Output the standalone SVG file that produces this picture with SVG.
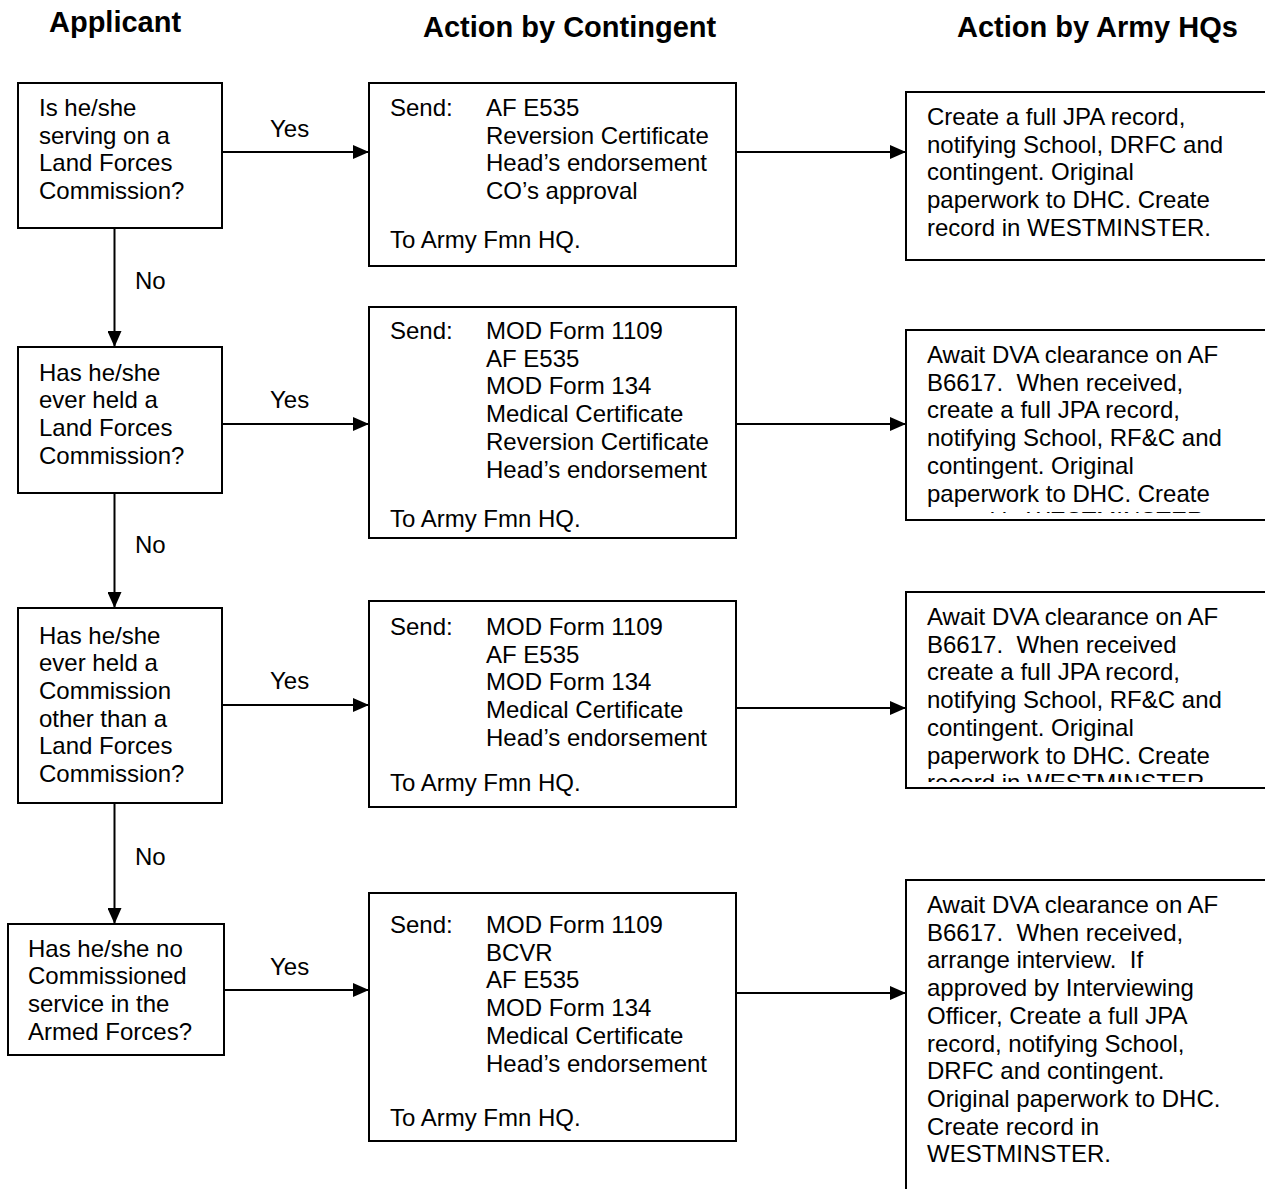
<svg xmlns="http://www.w3.org/2000/svg" width="1265" height="1189" viewBox="0 0 1265 1189">
<style>
  text { font-family: "Liberation Sans", Arial, sans-serif; font-size: 24px; fill: #000; }
  .hdr { font-weight: bold; font-size: 29px; }
  .box { fill: #fff; stroke: #000; stroke-width: 2; }
  .conn line { stroke: #000; stroke-width: 2; fill: none; marker-end: url(#arrow); }
</style>
<defs>
  <marker id="arrow" markerUnits="userSpaceOnUse" markerWidth="16" markerHeight="14" refX="16" refY="7" orient="auto">
    <path d="M0,0 L16,7 L0,14 z" fill="#000"/>
  </marker>
  <clipPath id="clip-h2"><rect x="906" y="330" width="360" height="183"/></clipPath>
  <clipPath id="clip-h3"><rect x="906" y="592" width="360" height="190"/></clipPath>
</defs>
<rect width="1265" height="1189" fill="#fff"/>

<!-- column headings -->
<g id="headers">
  <text class="hdr" x="49" y="32">Applicant</text>
  <text class="hdr" x="423" y="37">Action by Contingent</text>
  <text class="hdr" x="957" y="37">Action by Army HQs</text>
</g>

<!-- connectors -->
<g id="connectors" class="conn">
  <line x1="114.5" y1="228" x2="114.5" y2="347"/>
  <line x1="114.5" y1="493" x2="114.5" y2="608"/>
  <line x1="114.5" y1="803" x2="114.5" y2="924"/>
  <line x1="222" y1="152" x2="369" y2="152"/>
  <line x1="222" y1="424" x2="369" y2="424"/>
  <line x1="222" y1="705" x2="369" y2="705"/>
  <line x1="224" y1="990" x2="369" y2="990"/>
  <line x1="736" y1="152" x2="906" y2="152"/>
  <line x1="736" y1="424" x2="906" y2="424"/>
  <line x1="736" y1="708" x2="906" y2="708"/>
  <line x1="736" y1="993" x2="906" y2="993"/>
</g>
<g id="connector-labels">
  <text x="135" y="288.5">No</text>
  <text x="135" y="552.5">No</text>
  <text x="135" y="865">No</text>
  <text x="270" y="137">Yes</text>
  <text x="270" y="408">Yes</text>
  <text x="270" y="689">Yes</text>
  <text x="270" y="975">Yes</text>
</g>

<!-- applicant questions -->
<g id="q1">
  <rect class="box" x="18" y="83" width="204" height="145"/>
  <text x="39" y="116">Is he/she<tspan x="39" dy="27.7">serving on a</tspan><tspan x="39" dy="27.7">Land Forces</tspan><tspan x="39" dy="27.7">Commission?</tspan></text>
</g>
<g id="q2">
  <rect class="box" x="18" y="347" width="204" height="146"/>
  <text x="39" y="380.5">Has he/she<tspan x="39" dy="27.7">ever held a</tspan><tspan x="39" dy="27.7">Land Forces</tspan><tspan x="39" dy="27.7">Commission?</tspan></text>
</g>
<g id="q3">
  <rect class="box" x="18" y="608" width="204" height="195"/>
  <text x="39" y="643.5">Has he/she<tspan x="39" dy="27.7">ever held a</tspan><tspan x="39" dy="27.7">Commission</tspan><tspan x="39" dy="27.7">other than a</tspan><tspan x="39" dy="27.7">Land Forces</tspan><tspan x="39" dy="27.7">Commission?</tspan></text>
</g>
<g id="q4">
  <rect class="box" x="8" y="924" width="216" height="131"/>
  <text x="28" y="956.7">Has he/she no<tspan x="28" dy="27.7">Commissioned</tspan><tspan x="28" dy="27.7">service in the</tspan><tspan x="28" dy="27.7">Armed Forces?</tspan></text>
</g>

<!-- contingent actions -->
<g id="c1">
  <rect class="box" x="369" y="83" width="367" height="183"/>
  <text x="390" y="116">Send:</text>
  <text x="486" y="116">AF E535<tspan x="486" dy="27.7">Reversion Certificate</tspan><tspan x="486" dy="27.7">Head’s endorsement</tspan><tspan x="486" dy="27.7">CO’s approval</tspan></text>
  <text x="390" y="248">To Army Fmn HQ.</text>
</g>
<g id="c2">
  <rect class="box" x="369" y="307" width="367" height="231"/>
  <text x="390" y="339">Send:</text>
  <text x="486" y="339">MOD Form 1109<tspan x="486" dy="27.7">AF E535</tspan><tspan x="486" dy="27.7">MOD Form 134</tspan><tspan x="486" dy="27.7">Medical Certificate</tspan><tspan x="486" dy="27.7">Reversion Certificate</tspan><tspan x="486" dy="27.7">Head’s endorsement</tspan></text>
  <text x="390" y="527">To Army Fmn HQ.</text>
</g>
<g id="c3">
  <rect class="box" x="369" y="601" width="367" height="206"/>
  <text x="390" y="635">Send:</text>
  <text x="486" y="635">MOD Form 1109<tspan x="486" dy="27.7">AF E535</tspan><tspan x="486" dy="27.7">MOD Form 134</tspan><tspan x="486" dy="27.7">Medical Certificate</tspan><tspan x="486" dy="27.7">Head’s endorsement</tspan></text>
  <text x="390" y="791">To Army Fmn HQ.</text>
</g>
<g id="c4">
  <rect class="box" x="369" y="893" width="367" height="248"/>
  <text x="390" y="933">Send:</text>
  <text x="486" y="933">MOD Form 1109<tspan x="486" dy="27.7">BCVR</tspan><tspan x="486" dy="27.7">AF E535</tspan><tspan x="486" dy="27.7">MOD Form 134</tspan><tspan x="486" dy="27.7">Medical Certificate</tspan><tspan x="486" dy="27.7">Head’s endorsement</tspan></text>
  <text x="390" y="1126">To Army Fmn HQ.</text>
</g>

<!-- Army HQ actions (boxes run off the right edge) -->
<g id="h1">
  <rect class="box" x="906" y="92" width="362" height="168"/>
  <text x="927" y="125">Create a full JPA record,<tspan x="927" dy="27.7">notifying School, DRFC and</tspan><tspan x="927" dy="27.7">contingent. Original</tspan><tspan x="927" dy="27.7">paperwork to DHC. Create</tspan><tspan x="927" dy="27.7">record in WESTMINSTER.</tspan></text>
</g>
<g id="h2">
  <rect class="box" x="906" y="330" width="362" height="190"/>
  <text x="927" y="363" clip-path="url(#clip-h2)">Await DVA clearance on AF<tspan x="927" dy="27.7">B6617.&#160; When received,</tspan><tspan x="927" dy="27.7">create a full JPA record,</tspan><tspan x="927" dy="27.7">notifying School, RF&amp;C and</tspan><tspan x="927" dy="27.7">contingent. Original</tspan><tspan x="927" dy="27.7">paperwork to DHC. Create</tspan><tspan x="927" dy="27.7">record in WESTMINSTER.</tspan></text>
</g>
<g id="h3">
  <rect class="box" x="906" y="592" width="362" height="196"/>
  <text x="927" y="625" clip-path="url(#clip-h3)">Await DVA clearance on AF<tspan x="927" dy="27.7">B6617.&#160; When received</tspan><tspan x="927" dy="27.7">create a full JPA record,</tspan><tspan x="927" dy="27.7">notifying School, RF&amp;C and</tspan><tspan x="927" dy="27.7">contingent. Original</tspan><tspan x="927" dy="27.7">paperwork to DHC. Create</tspan><tspan x="927" dy="27.7">record in WESTMINSTER.</tspan></text>
</g>
<g id="h4">
  <rect class="box" x="906" y="880" width="362" height="320"/>
  <text x="927" y="913">Await DVA clearance on AF<tspan x="927" dy="27.7">B6617.&#160; When received,</tspan><tspan x="927" dy="27.7">arrange interview.&#160; If</tspan><tspan x="927" dy="27.7">approved by Interviewing</tspan><tspan x="927" dy="27.7">Officer, Create a full JPA</tspan><tspan x="927" dy="27.7">record, notifying School,</tspan><tspan x="927" dy="27.7">DRFC and contingent.</tspan><tspan x="927" dy="27.7">Original paperwork to DHC.</tspan><tspan x="927" dy="27.7">Create record in</tspan><tspan x="927" dy="27.7">WESTMINSTER.</tspan></text>
</g>
</svg>
